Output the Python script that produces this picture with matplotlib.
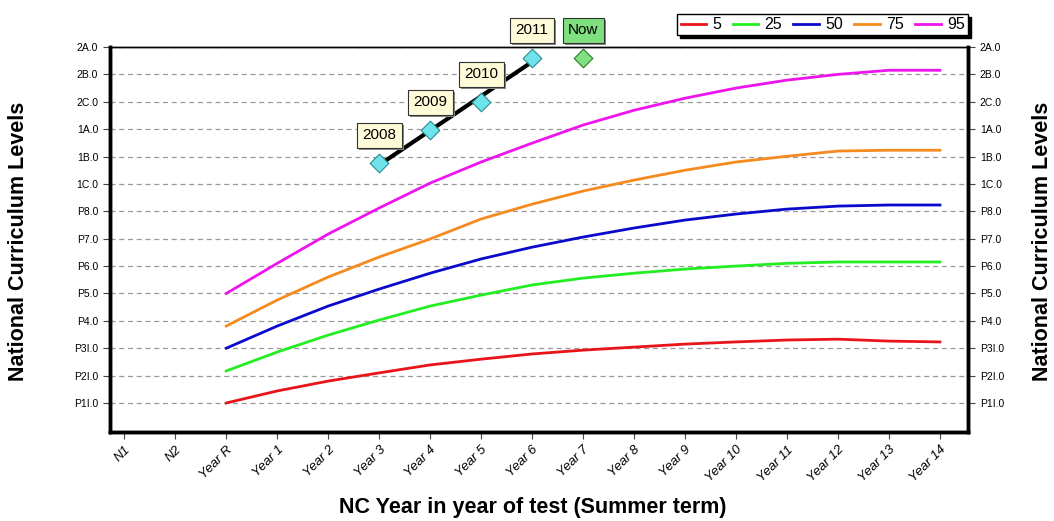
import numpy as np
import matplotlib
matplotlib.use('Agg')
import matplotlib.pyplot as plt
import matplotlib.patheffects as pe

plt.rcParams['font.family'] = ['Liberation Sans', 'DejaVu Sans']

# x categories (NC years) and y levels
x_labels = ['N1', 'N2', 'Year R', 'Year 1', 'Year 2', 'Year 3', 'Year 4', 'Year 5', 'Year 6',
            'Year 7', 'Year 8', 'Year 9', 'Year 10', 'Year 11', 'Year 12', 'Year 13', 'Year 14']
y_labels = ['P1I.0', 'P2I.0', 'P3I.0', 'P4.0', 'P5.0', 'P6.0', 'P7.0', 'P8.0',
            '1C.0', '1B.0', '1A.0', '2C.0', '2B.0', '2A.0']

# percentile curves, Year R .. Year 14
curve_years = list(range(2, 17))
p5 = [1.0, 1.44, 1.8, 2.1, 2.39, 2.6, 2.79, 2.93, 3.04, 3.15, 3.23, 3.3, 3.33, 3.26, 3.23]
p25 = [2.17, 2.86, 3.48, 4.03, 4.54, 4.94, 5.31, 5.56, 5.74, 5.89, 6.0, 6.1, 6.15, 6.15, 6.15]
p50 = [3.0, 3.81, 4.54, 5.16, 5.74, 6.26, 6.69, 7.06, 7.39, 7.68, 7.9, 8.08, 8.19, 8.23, 8.23]
p75 = [3.81, 4.76, 5.6, 6.33, 6.99, 7.72, 8.26, 8.74, 9.14, 9.5, 9.8, 10.01, 10.2, 10.23, 10.23]
p95 = [5.0, 6.1, 7.17, 8.12, 9.03, 9.8, 10.49, 11.15, 11.69, 12.13, 12.5, 12.79, 13.0, 13.15, 13.15]

# pupil results
pupil_years = ['2008', '2009', '2010', '2011']
pupil_x = [5, 6, 7, 8]
pupil_y = [9.76, 10.96, 11.99, 13.6]
now_x = 9
now_y = 13.6

fig = plt.figure(figsize=(10.54, 5.21), dpi=100)
ax = fig.add_axes([0.1044, 0.1708, 0.814, 0.739])

series = [('5', p5, '#e8141a'), ('25', p25, '#22ee22'), ('50', p50, '#0a0acc'),
          ('75', p75, '#f58a1e'), ('95', p95, '#ee14ee')]
for name, vals, col in series:
    ax.plot(curve_years, vals, color=col, lw=2, label=name)

# trend line through pupil points
k, b = np.polyfit(pupil_x, pupil_y, 1)
xs = np.array([pupil_x[0], pupil_x[-1]])
ax.plot(xs, k * xs + b, color='black', lw=3, zorder=4)
ax.scatter(pupil_x, pupil_y, marker='D', s=90, color='#6fe3ea', edgecolor='#2a8a94',
           lw=0.8, zorder=5, clip_on=False)
ax.scatter([now_x], [now_y], marker='D', s=90, color='#7fe07f', edgecolor='#2a7a2a',
           lw=0.8, zorder=5, clip_on=False)

shadow = [pe.withSimplePatchShadow(offset=(1.5, -1.5), shadow_rgbFace='#888888', alpha=1)]
labels = pupil_years + ['Now']
lx = pupil_x + [now_x]
ly = pupil_y + [now_y]
for lab, x, y in zip(labels, lx, ly):
    fc = '#7fe07f' if lab == 'Now' else '#fffbd8'
    t = ax.annotate(lab, (x, y), xytext=(0, 20), textcoords='offset points', ha='center',
                    va='center', fontsize=11, zorder=6, annotation_clip=False,
                    bbox=dict(boxstyle='square,pad=0.35', fc=fc, ec='#333333', lw=0.8))
    t.get_bbox_patch().set_path_effects(shadow)

ax.set_xlim(-0.28, 16.55)
ax.set_ylim(-0.06, 14)
ax.set_yticks(range(1, 15))
ax.set_yticklabels(y_labels, fontsize=7.5)
ax.set_xticks(range(len(x_labels)))
ax.set_xticklabels(x_labels, rotation=45, ha='right', rotation_mode='anchor',
                   fontsize=9.5, style='italic')
ax.yaxis.grid(True, ls=(0, (4, 3)), color='#999999', lw=0.9)
ax.tick_params(axis='both', direction='out', length=5, width=0.8, color='#444444')

ax2 = ax.twinx()
ax2.set_ylim(ax.get_ylim())
ax2.set_yticks(range(1, 15))
ax2.set_yticklabels(y_labels, fontsize=7.5)
ax2.tick_params(axis='y', direction='out', length=5, width=0.8, color='#444444')

for a in (ax, ax2):
    for s in ('left', 'right', 'bottom'):
        a.spines[s].set_linewidth(2.5)
    a.spines['top'].set_linewidth(1.0)

fig.text(0.018, 0.537, 'National Curriculum Levels', rotation=90, ha='center', va='center',
         fontsize=15.5, fontweight='bold')
fig.text(0.989, 0.537, 'National Curriculum Levels', rotation=90, ha='center', va='center',
         fontsize=15.5, fontweight='bold')
fig.text(0.505, 0.025, 'NC Year in year of test (Summer term)', ha='center', va='center',
         fontsize=15.5, fontweight='bold')

leg = ax.legend(loc='lower right', bbox_to_anchor=(1.0, 1.03), ncol=5, fontsize=11.5,
                frameon=True, fancybox=False, handlelength=1.6,
                shadow={'color': 'black', 'alpha': 1},
                columnspacing=0.7, handletextpad=0.4, borderpad=0.2, borderaxespad=0)
leg.get_frame().set_edgecolor('black')
leg.get_frame().set_linewidth(1.0)

fig.savefig('out.png', dpi=100)
